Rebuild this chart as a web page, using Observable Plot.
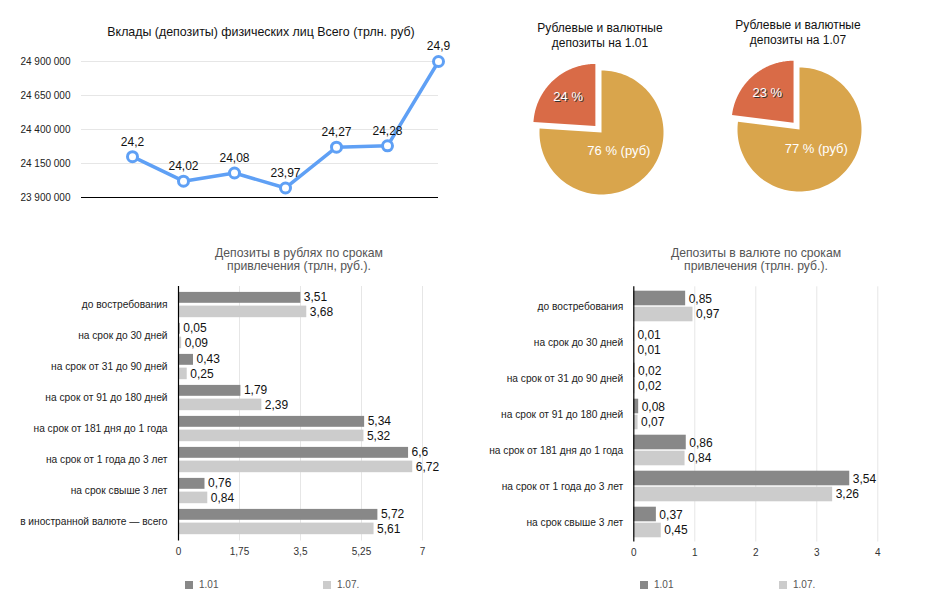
<!DOCTYPE html>
<html>
<head>
<meta charset="utf-8">
<script src="https://cdn.jsdelivr.net/npm/d3@7"></script>
<script src="https://cdn.jsdelivr.net/npm/@observablehq/plot@0.6"></script>
<style>
  html, body { margin: 0; padding: 0; background: #fff; }
  #root { position: relative; width: 926px; height: 607px; overflow: hidden; font-family: "Liberation Sans", Arial, sans-serif; }
  .ttl { position: absolute; transform: translate(-50%, -50%); text-align: center; white-space: nowrap; }
  .leg { position: absolute; font-size: 10px; color: #555; line-height: 10px; }
  .sw { position: absolute; width: 8px; height: 8px; }
</style>
</head>
<body>
<div id="root"></div>
<script>
// ---------- DATA ----------
const lineTitle = "Вклады (депозиты) физических лиц Всего (трлн. руб)";
const lineValues = [24.2, 24.02, 24.08, 23.97, 24.27, 24.28, 24.9];   // трлн руб
const lineTicks = [23900000, 24150000, 24400000, 24650000, 24900000];

const pie1Title = ["Рублевые и валютные", "депозиты на 1.01"];
const pie1Values = [24, 76];
const pie1Labels = ["24 %", "76 % (руб)"];
const pie2Title = ["Рублевые и валютные", "депозиты на 1.07"];
const pie2Values = [23, 77];
const pie2Labels = ["23 %", "77 % (руб)"];

const rubTitle = ["Депозиты в рублях по срокам", "привлечения (трлн, руб.)."];
const rubCats = ["до востребования", "на срок до 30 дней", "на срок от 31 до 90 дней", "на срок от 91 до 180 дней",
  "на срок от 181 дня до 1 года", "на срок от 1 года до 3 лет", "на срок свыше 3 лет", "в иностранной валюте — всего"];
const rub101 = [3.51, 0.05, 0.43, 1.79, 5.34, 6.6, 0.76, 5.72];
const rub107 = [3.68, 0.09, 0.25, 2.39, 5.32, 6.72, 0.84, 5.61];
const rubTicks = [0, 1.75, 3.5, 5.25, 7];

const curTitle = ["Депозиты в валюте по срокам", "привлечения (трлн. руб.)."];
const curCats = ["до востребования", "на срок до 30 дней", "на срок от 31 до 90 дней", "на срок от 91 до 180 дней",
  "на срок от 181 дня до 1 года", "на срок от 1 года до 3 лет", "на срок свыше 3 лет"];
const cur101 = [0.85, 0.01, 0.02, 0.08, 0.86, 3.54, 0.37];
const cur107 = [0.97, 0.01, 0.02, 0.07, 0.84, 3.26, 0.45];
const curTicks = [0, 1, 2, 3, 4];

const seriesNames = ["1.01", "1.07."];

// ---------- HELPERS ----------
const FONT = '"Liberation Sans", Arial, sans-serif';
const root = document.getElementById("root");
const comma = v => String(v).replace(".", ",");
function place(el, left, top) { el.style.position = "absolute"; el.style.left = left + "px"; el.style.top = top + "px"; root.appendChild(el); }
function title(lines, cx, cy, size, color, lh) {
  const d = document.createElement("div");
  d.className = "ttl";
  d.style.left = cx + "px"; d.style.top = cy + "px";
  d.style.fontSize = size + "px"; d.style.color = color; d.style.lineHeight = lh + "px";
  d.innerHTML = lines.join("<br>");
  root.appendChild(d);
}
function legend(items, colors, xs, y) {
  items.forEach((t, i) => {
    const s = document.createElement("div"); s.className = "sw"; s.style.background = colors[i];
    s.style.left = xs[i] + "px"; s.style.top = y + "px"; root.appendChild(s);
    const l = document.createElement("div"); l.className = "leg"; l.textContent = t;
    l.style.left = (xs[i] + 14) + "px"; l.style.top = (y - 1) + "px"; root.appendChild(l);
  });
}

// ---------- LINE CHART ----------
const lineData = lineValues.map((v, i) => ({i: i + 1, v, y: Math.round(v * 1e6)}));
const lineBlue = "#5fa0f5";
const linePlot = Plot.plot({
  width: 460, height: 180,
  marginLeft: 81, marginRight: 22, marginTop: 21, marginBottom: 23,
  style: {fontFamily: FONT, fontSize: "10px", color: "#222", background: "transparent"},
  x: {domain: [0, 7], axis: null},
  y: {domain: [23900000, 24900000], label: null},
  marks: [
    Plot.gridY(lineTicks, {stroke: "#e6e6e6", strokeOpacity: 1}),
    Plot.axisY(lineTicks, {tickSize: 0, tickPadding: 11, fontSize: 10, fill: "#222", label: null,
      tickFormat: d => d3.format(",")(d).replace(/,/g, " ")}),
    Plot.ruleY([23900000], {stroke: "#000", strokeWidth: 1}),
    Plot.line(lineData, {x: "i", y: "y", stroke: lineBlue, strokeWidth: 3.5}),
    Plot.dot(lineData, {x: "i", y: "y", r: 5, fill: "#fff", stroke: lineBlue, strokeWidth: 3}),
    Plot.text(lineData, {x: "i", y: "y", text: d => comma(d.v), dy: -15, fontSize: 12, fill: "#111"})
  ]
});
place(linePlot, 0, 40);
title([lineTitle], 261, 32, 12.4, "#111", 15);

// ---------- PIES ----------
const RED = "#d96b47", ORANGE = "#d9a54c";
function pie(values, labels, left, top) {
  const total = d3.sum(values);
  const fRed = values[0] / total;
  const aRed = 2 * Math.PI * fRed;
  const explode = 0.145;
  const mid = -aRed / 2;
  const ox = Math.sin(mid) * explode, oy = Math.cos(mid) * explode;
  function arc(a0, a1, cx, cy) {
    const pts = [{x: cx, y: cy}];
    const n = 120;
    for (let k = 0; k <= n; k++) {
      const a = a0 + (a1 - a0) * k / n;
      pts.push({x: cx + Math.sin(a), y: cy + Math.cos(a)});
    }
    return pts;
  }
  const redPts = arc(-aRed, 0, ox, oy);
  const orPts = arc(0, 2 * Math.PI - aRed, 0, 0);
  const midO = (2 * Math.PI - aRed) / 2;
  const lab = [{x: ox + Math.sin(mid) * 0.64, y: oy + Math.cos(mid) * 0.64, t: labels[0]}];
  const labO = [{x: Math.sin(midO) * 0.41, y: Math.cos(midO) * 0.41, t: labels[1]}];
  const p = Plot.plot({
    width: 160, height: 160, margin: 0,
    style: {fontFamily: FONT, background: "transparent"},
    x: {domain: [-1.29, 1.29], axis: null},
    y: {domain: [-1.29, 1.29], axis: null},
    marks: [
      Plot.line(orPts, {x: "x", y: "y", fill: ORANGE, stroke: "none", curve: "linear"}),
      Plot.line(redPts, {x: "x", y: "y", fill: RED, stroke: "none", curve: "linear"}),
      Plot.text(lab, {x: "x", y: "y", text: "t", fill: "#333", dx: 1, dy: 1, fontSize: 13}),
      Plot.text(lab, {x: "x", y: "y", text: "t", fill: "#fff", fontSize: 13}),
      Plot.text(labO, {x: "x", y: "y", text: "t", fill: "#fff", fontSize: 13})
    ]
  });
  place(p, left, top);
}
pie(pie1Values, pie1Labels, 521, 51.5);
pie(pie2Values, pie2Labels, 719, 49);
title(pie1Title, 600, 35, 12, "#111", 14.5);
title(pie2Title, 798, 32, 12, "#111", 14.5);

// ---------- BAR CHARTS ----------
const DARK = "#888888", LIGHT = "#cccccc";
function bars(cats, s1, s2, ticks, opts) {
  const d1 = cats.map((c, i) => ({cat: c, v: s1[i]}));
  const d2 = cats.map((c, i) => ({cat: c, v: s2[i]}));
  return Plot.plot({
    width: opts.width, height: opts.height,
    marginLeft: opts.ml, marginRight: opts.mr, marginTop: opts.mt, marginBottom: opts.mb,
    style: {fontFamily: FONT, fontSize: "10px", color: "#222", background: "transparent"},
    x: {domain: [ticks[0], ticks[ticks.length - 1]]},
    y: {domain: cats, padding: 0},
    marks: [
      Plot.gridX(ticks.slice(1), {stroke: "#e6e6e6", strokeOpacity: 1}),
      Plot.barX(d1, {x: "v", y: "cat", fill: DARK, insetTop: opts.i1t, insetBottom: opts.i1b}),
      Plot.barX(d2, {x: "v", y: "cat", fill: LIGHT, insetTop: opts.i2t, insetBottom: opts.i2b}),
      Plot.text(d1, {x: "v", y: "cat", text: d => comma(d.v), dy: -opts.ld, dx: 3, textAnchor: "start", fontSize: 12, fill: "#111"}),
      Plot.text(d2, {x: "v", y: "cat", text: d => comma(d.v), dy: opts.ld, dx: 3, textAnchor: "start", fontSize: 12, fill: "#111"}),
      Plot.ruleX([0], {stroke: "#000", strokeWidth: 1.2}),
      Plot.axisX(ticks, {tickSize: 0, tickPadding: 7, fontSize: 10, fill: "#333", tickFormat: comma, label: null}),
      Plot.axisY({tickSize: 0, tickPadding: opts.tp, fontSize: 10.2, fill: "#222", label: null})
    ]
  });
}
const rubPlot = bars(rubCats, rub101, rub107, rubTicks,
  {width: 460, height: 286, ml: 178, mr: 38, mt: 6, mb: 25.5, i1t: 2.9, i1b: 17.2, i2t: 16.6, i2b: 2.8, ld: 7.5, tp: 11});
place(rubPlot, 0, 280);
title(rubTitle, 299, 259.5, 12.2, "#555", 13.5);
legend(seriesNames, [DARK, LIGHT], [185, 323], 581);

const curPlot = bars(curCats, cur101, cur107, curTicks,
  {width: 466, height: 286, ml: 173.3, mr: 48.7, mt: 6.3, mb: 24.5, i1t: 2.7, i1b: 18.7, i2t: 18.7, i2b: 2.7, ld: 7.8, tp: 10.6});
place(curPlot, 460, 280);
title(curTitle, 756, 259.5, 12.2, "#555", 13.5);
legend(seriesNames, [DARK, LIGHT], [640, 779], 581);
</script>
</body>
</html>
